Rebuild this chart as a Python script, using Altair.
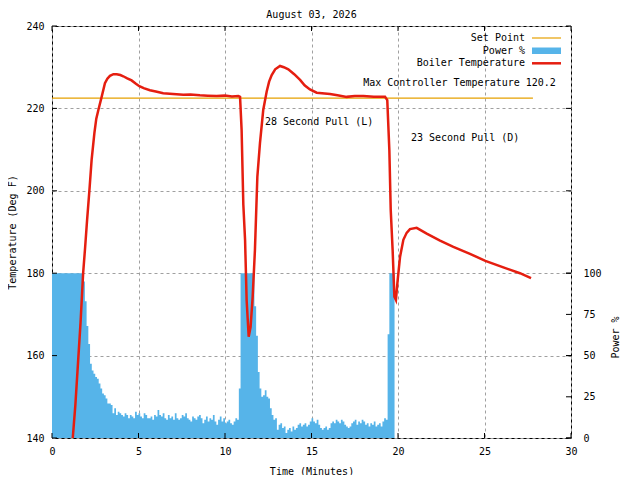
import altair as alt
import pandas as pd

MONO = "DejaVu Sans Mono"
RED = "#e51e10"
BLUE = "#56b4e9"
ORANGE = "#e6a000"
GRID = "#a0a0a0"

title_text = "August 03, 2026"
x_title = "Time (Minutes)"
y_title = "Temperature (Deg F)"
y2_title = "Power %"

x_ticks = [0, 5, 10, 15, 20, 25, 30]
temp_ticks = [140, 160, 180, 200, 220, 240]
power_ticks = [0, 25, 50, 75, 100]

# Boiler temperature (minutes, deg F)
boiler_t = [1.2, 1.35, 1.5, 1.65, 1.8, 1.91, 2.03, 2.16, 2.29, 2.45, 2.56, 2.68, 2.87,
            3.06, 3.2, 3.35, 3.55, 3.74, 3.95, 4.12, 4.35, 4.6, 4.85, 5.05, 5.3, 5.66,
            6.0, 6.43, 7.0, 7.59, 8.0, 8.55, 9.0, 9.52, 10.0, 10.4, 10.77, 10.87, 10.96,
            11.06, 11.16, 11.25, 11.37, 11.48, 11.6, 11.73, 11.87, 12.02, 12.21, 12.41,
            12.55, 12.7, 12.9, 13.18, 13.4, 13.66, 14.0, 14.34, 14.6, 14.91, 15.3, 16.07,
            16.5, 17.03, 17.5, 18.0, 18.6, 19.25, 19.38, 19.5, 19.58, 19.69, 19.79, 19.88,
            19.98, 20.12, 20.31, 20.5, 20.69, 21.08, 21.66, 22.43, 23.2, 24.16, 25.05,
            26.09, 27.05, 27.69]
boiler_T = [140, 148, 158, 168, 180, 186, 193, 200, 207.5, 214, 217.5, 219.6, 222.8,
            226.1, 227.2, 227.9, 228.3, 228.3, 228.1, 227.8, 227.3, 226.8, 226.0, 225.4,
            224.9, 224.4, 224.1, 223.7, 223.5, 223.3, 223.4, 223.2, 223.1, 223.0, 223.1,
            222.9, 223.0, 222.8, 214.8, 196.6, 188.1, 173.5, 164.6, 167.0, 174.3, 185.6,
            203.4, 211.5, 219.6, 224.1, 226.5, 228.1, 229.5, 230.3, 230.0, 229.5, 228.3,
            226.9, 225.6, 224.6, 223.8, 223.5, 223.2, 222.8, 223.0, 223.0, 222.8, 222.8,
            222.0, 209.9, 195.3, 185.6, 174.3, 173.5, 178.3, 184.0, 188.1, 189.8, 190.7,
            191.0, 189.6, 187.9, 186.4, 184.7, 183.0, 181.4, 180.0, 178.8]

# Set point line
setpoint_t = [0, 27.8]
setpoint_T = [222.5, 222.5]

# Power % sampled every 0.1 minute starting at t = 0
power_step = 0.1
power_pct = ([100] * 18 +
             [95, 83, 68, 57, 45, 41, 39, 37, 36, 33,
              30, 27, 26, 24, 21, 21, 20, 15, 18, 14,
              16, 15, 14, 13, 15, 14, 12, 14, 13, 12,
              16, 14, 15, 13, 12, 15, 14, 12, 12, 13,
              11, 14, 13, 17, 14, 13, 15, 12, 11, 14,
              12, 13, 11, 15, 12, 11, 12, 14, 13, 15,
              12, 11, 10, 13, 12, 11, 13, 14, 12, 9,
              11, 13, 10, 12, 11, 14, 10, 8, 11, 13,
              10, 12, 9, 10, 11, 9, 8, 10, 12, 11,
              30] +
             [100] * 8 +
             [80, 62, 40, 30, 25, 26, 29, 25, 24, 18,
              14, 11, 12, 5, 8, 9, 6, 7, 3, 5,
              6, 4, 7, 5, 6, 8, 9, 7, 8, 9,
              7, 8, 10, 12, 10, 9, 11, 8, 6, 5,
              6, 7, 5, 6, 9, 10, 9, 11, 10, 9,
              11, 10, 8, 7, 6, 7, 9, 10, 11, 8,
              10, 9, 11, 10, 8, 9, 7, 9, 8, 10,
              7, 8, 9, 7, 10, 12, 11,
              63] +
             [100] * 3 + [0])

ann_labels = ["Max Controller Temperature 120.2", "28 Second Pull (L)", "23 Second Pull (D)"]
ann_t = [17.99, 12.31, 20.75]
ann_T = [226.2, 216.8, 212.9]

legend_labels = ["Set Point", "Power %", "Boiler Temperature"]

boiler_df = pd.DataFrame({"t": boiler_t, "v": boiler_T})
set_df = pd.DataFrame({"t": setpoint_t, "v": setpoint_T})
power_df = pd.DataFrame({"t": [round(i * power_step, 1) for i in range(len(power_pct))],
                         "v": power_pct})
ann_df = pd.DataFrame({"t": ann_t, "v": ann_T, "label": ann_labels})
xt_df = pd.DataFrame({"t": x_ticks})
tt_df = pd.DataFrame({"v": temp_ticks})
pt_df = pd.DataFrame({"v": power_ticks})
one = alt.Data(values=[{"a": 1}])

x_scale = alt.Scale(domain=[0, 30], nice=False, zero=False)
temp_scale = alt.Scale(domain=[140, 240], nice=False, zero=False)
power_scale = alt.Scale(domain=[0, 250], nice=False)

x_axis = alt.Axis(title=x_title, values=x_ticks, grid=True, gridColor=GRID, gridDash=[3, 3],
                  ticks=False, tickSize=0, domain=False, labelPadding=8, titlePadding=10,
                  labelFlush=False, orient="bottom")
temp_axis = alt.Axis(title=y_title, values=temp_ticks, grid=True, gridColor=GRID,
                     gridDash=[3, 3], ticks=False, tickSize=0, domain=False,
                     labelPadding=8, titlePadding=8, orient="left")
power_axis = alt.Axis(title=y2_title, values=power_ticks, grid=False, ticks=False,
                      tickSize=0, domain=False, labelPadding=12, titlePadding=19,
                      orient="right", titleAngle=270, titleY=311)

X = alt.X("t:Q", scale=x_scale, axis=x_axis)
YT = alt.Y("v:Q", scale=temp_scale, axis=temp_axis)
YP = alt.Y("v:Q", scale=power_scale, axis=power_axis)

power_area = alt.Chart(power_df).mark_area(interpolate="step-after", color=BLUE,
                                           opacity=1).encode(x=X, y=YP)
power_tick_marks = alt.Chart(pt_df).mark_rule(color="black").encode(
    x=alt.value(519), x2=alt.value(514), y=YP)
power_layer = alt.layer(power_area, power_tick_marks)

setpoint = alt.Chart(set_df).mark_line(color=ORANGE, strokeWidth=1.2).encode(x=X, y=YT)
boiler = alt.Chart(boiler_df).mark_line(color=RED, strokeWidth=2.5, clip=True).encode(x=X, y=YT)
ann = alt.Chart(ann_df).mark_text(align="left", baseline="middle", font=MONO, fontSize=10,
                                  color="black").encode(x=X, y=YT, text="label:N")
lt = alt.Chart(tt_df).mark_rule(color="black").encode(x=alt.value(0), x2=alt.value(5), y=YT)
rt = alt.Chart(tt_df).mark_rule(color="black").encode(x=alt.value(519), x2=alt.value(514), y=YT)
bt = alt.Chart(xt_df).mark_rule(color="black").encode(x=X, y=alt.value(412), y2=alt.value(407))
tt = alt.Chart(xt_df).mark_rule(color="black").encode(x=X, y=alt.value(0), y2=alt.value(5))

legend_rows = [12, 24.7, 37.3]
leg = []
for lab, yy in zip(legend_labels, legend_rows):
    leg.append(alt.Chart(one).mark_text(align="right", baseline="middle", font=MONO,
                                        fontSize=10, color="black").encode(
        x=alt.value(473), y=alt.value(yy), text=alt.value(lab)))
leg.append(alt.Chart(one).mark_rule(color=ORANGE, strokeWidth=1.2).encode(
    x=alt.value(480), x2=alt.value(509), y=alt.value(legend_rows[0])))
leg.append(alt.Chart(one).mark_rect(color=BLUE).encode(
    x=alt.value(480), x2=alt.value(509), y=alt.value(21.5), y2=alt.value(28)))
leg.append(alt.Chart(one).mark_rule(color=RED, strokeWidth=2.5).encode(
    x=alt.value(480), x2=alt.value(509), y=alt.value(legend_rows[2])))

temp_layer = alt.layer(setpoint, boiler, ann, lt, rt, bt, tt, *leg)

chart = alt.layer(power_layer, temp_layer).resolve_scale(y="independent").properties(
    width=519, height=412,
    title=alt.TitleParams(title_text, font=MONO, fontSize=10, fontWeight="normal",
                          anchor="middle", offset=1, color="black"),
    autosize=alt.AutoSizeParams(type="none"),
    padding={"left": 44, "top": 18, "right": 61, "bottom": 37},
).configure(font=MONO).configure_view(stroke="black", strokeWidth=1).configure_axis(
    labelFont=MONO, titleFont=MONO, labelFontSize=10, titleFontSize=10,
    titleFontWeight="normal", labelColor="black", titleColor="black")

chart.save("out.html", embed_options={"renderer": "svg", "actions": False})
